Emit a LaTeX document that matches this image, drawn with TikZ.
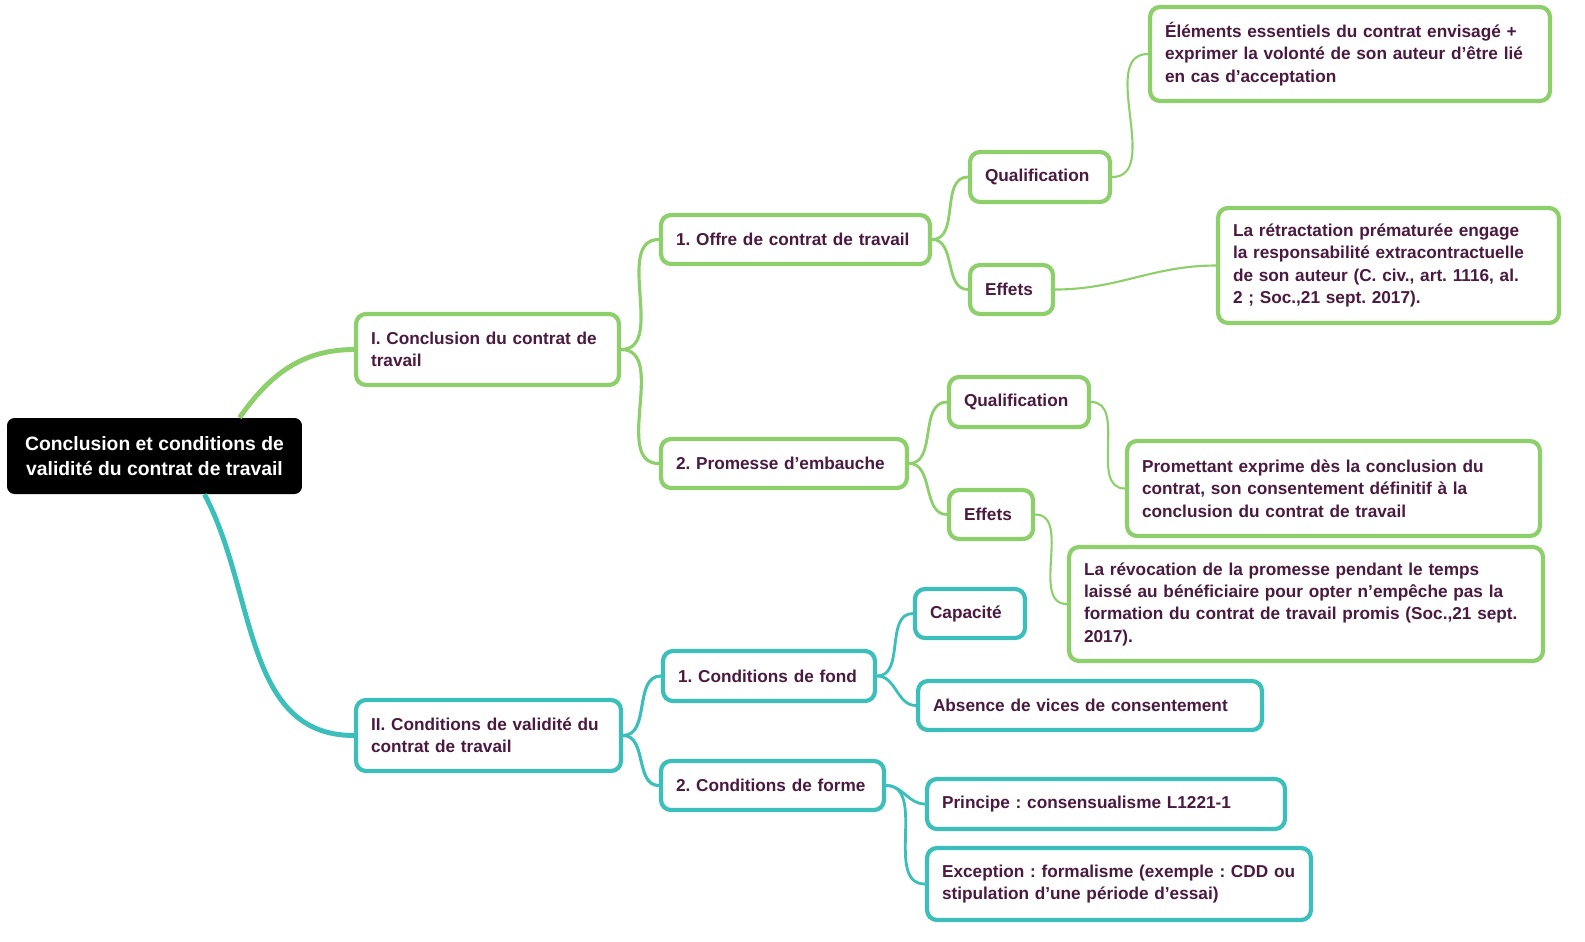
\documentclass[tikz,border=0pt]{standalone}
\usepackage{fontspec}
\setmainfont{Liberation Sans}
\frenchspacing
\definecolor{mapgreen}{HTML}{8DCF6B}
\definecolor{mapteal}{HTML}{3CBFBB}
\definecolor{maptext}{HTML}{4A1A40}

\begin{document}
\begin{tikzpicture}[x=0.02cm,y=-0.02cm]
    \tikzstyle{every node}=[font=\bfseries\fontsize{9.8}{12.7}\selectfont,text=maptext,align=left,inner xsep=0.3cm,inner ysep=0pt];
    \tikzstyle{gbox}=[draw=mapgreen,line width=2.4pt,rounded corners=0.2cm,fill=white]
    \tikzstyle{tbox}=[draw=mapteal,line width=2.4pt,rounded corners=0.2cm,fill=white]
    \tikzstyle{glink}=[draw=mapgreen,line width=1.8pt]
    \tikzstyle{tlink}=[draw=mapteal,line width=1.8pt]
    \tikzstyle{gtwig}=[draw=mapgreen,line width=1.2pt]

    \useasboundingbox (0,0) rectangle (1585,941);

    \node[fill=black,text=white,align=center,rounded corners=0.15cm,minimum width=5.9cm,minimum height=1.52cm,font=\bfseries\fontsize{11}{14.2}\selectfont] (root) at (154.5,456) {Conclusion et conditions de\\validité du contrat de travail};

    \node[gbox,text width=4.66cm,minimum height=1.42cm] (concl) at (487.5,349.5) {I. Conclusion du contrat de\\travail};
    \node[tbox,text width=4.70cm,minimum height=1.42cm] (valid) at (488.5,735.5) {II. Conditions de validité du\\contrat de travail};

    \node[gbox,text width=4.78cm,minimum height=0.98cm] (offre) at (795.5,239.5) {1. Offre de contrat de travail};
    \node[gbox,text width=4.32cm,minimum height=0.98cm] (prom) at (784,463.5) {2. Promesse d’embauche};
    \node[tbox,text width=3.64cm,minimum height=1.0cm] (fond) at (769,676) {1. Conditions de fond};
    \node[tbox,text width=3.86cm,minimum height=0.98cm] (forme) at (772.5,785.5) {2. Conditions de forme};

    \node[gbox,text width=2.20cm,minimum height=1.0cm] (oqualif) at (1040,177) {Qualification};
    \node[gbox,text width=1.06cm,minimum height=0.98cm] (oeffets) at (1011.5,289.5) {Effets};
    \node[gbox,text width=2.20cm,minimum height=1.0cm] (pqualif) at (1019,402) {Qualification};
    \node[gbox,text width=1.08cm,minimum height=0.98cm] (peffets) at (991,514.5) {Effets};
    \node[tbox,text width=1.60cm,minimum height=0.98cm] (capa) at (970,613.5) {Capacité};
    \node[tbox,text width=6.28cm,minimum height=0.98cm] (vices) at (1090,705.5) {Absence de vices de consentement};
    \node[tbox,text width=6.56cm,minimum height=1.0cm] (principe) at (1106,804) {Principe : consensualisme L1221-1};
    \node[tbox,text width=7.08cm,minimum height=1.44cm] (except) at (1119,884) {Exception : formalisme (exemple : CDD ou\\stipulation d’une période d’essai)};

    \node[gbox,text width=7.40cm,minimum height=1.88cm] (elem) at (1350,54) {Éléments essentiels du contrat envisagé +\\exprimer la volonté de son auteur d’être lié\\en cas d’acceptation};
    \node[gbox,text width=6.22cm,minimum height=2.30cm] (retract) at (1388.5,265.5) {La rétractation prématurée engage\\la responsabilité extracontractuelle\\de son auteur (C. civ., art. 1116, al.\\2 ; Soc.,21 sept. 2017).};
    \node[gbox,text width=7.66cm,minimum height=1.90cm] (promet) at (1333.5,488.5) {Promettant exprime dès la conclusion du\\contrat, son consentement définitif à la\\conclusion du contrat de travail};
    \node[gbox,text width=8.88cm,minimum height=2.28cm] (revoc) at (1306,604) {La révocation de la promesse pendant le temps\\laissé au bénéficiaire pour opter n’empêche pas la\\formation du contrat de travail promis (Soc.,21 sept.\\2017).};

    % branches from the root
    \draw[glink,line width=2.8pt] ([xshift=1.7cm]root.north) to[out=55,in=180] (concl.west);
    \draw[tlink,line width=2.8pt] ([xshift=1cm]root.south) to[out=-62,in=180] (valid.west);

    % second level
    \draw[glink] (concl.east) to[out=0,in=180] (offre.west);
    \draw[glink] (concl.east) to[out=0,in=180] (prom.west);
    \draw[tlink] (valid.east) to[out=0,in=180] (fond.west);
    \draw[tlink] (valid.east) to[out=0,in=180] (forme.west);

    % third level
    \draw[glink,line width=1.6pt] (offre.east) to[out=0,in=180] (oqualif.west);
    \draw[glink,line width=1.6pt] (offre.east) to[out=0,in=180] (oeffets.west);
    \draw[glink,line width=1.6pt] (prom.east) to[out=0,in=180] (pqualif.west);
    \draw[glink,line width=1.6pt] (prom.east) to[out=0,in=180] (peffets.west);
    \draw[tlink,line width=1.6pt] (fond.east) to[out=0,in=180] (capa.west);
    \draw[tlink,line width=1.6pt] (fond.east) to[out=0,in=180] (vices.west);
    \draw[tlink,line width=1.6pt] (forme.east) to[out=0,in=180] (principe.west);
    \draw[tlink,line width=1.6pt] (forme.east) to[out=0,in=180] (except.west);

    % leaves
    \draw[gtwig] (oqualif.east) to[out=0,in=180] (elem.west);
    \draw[gtwig] (oeffets.east) to[out=0,in=180] (retract.west);
    \draw[gtwig] (pqualif.east) to[out=0,in=180] (promet.west);
    \draw[gtwig] (peffets.east) to[out=0,in=180] (revoc.west);
\end{tikzpicture}
\end{document}
